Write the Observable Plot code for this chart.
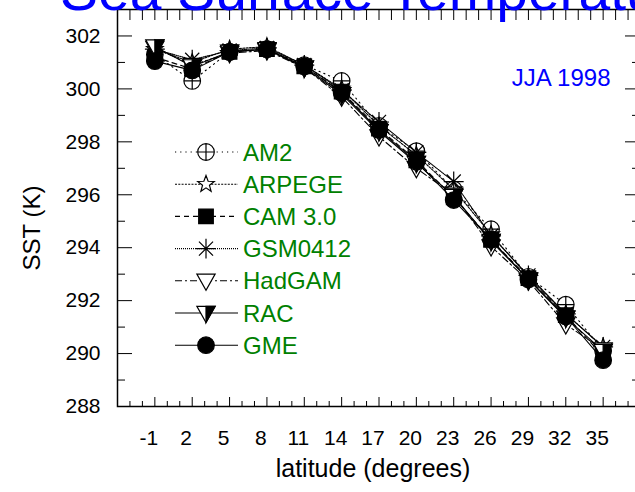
<!DOCTYPE html>
<html><head><meta charset="utf-8">
<script src="https://cdn.jsdelivr.net/npm/d3@7"></script>
<script src="https://cdn.jsdelivr.net/npm/@observablehq/plot@0.6"></script>
<style>
html,body{margin:0;padding:0;background:#fff;overflow:hidden;}
#wrap{position:relative;width:635px;height:492px;overflow:hidden;font-family:"Liberation Sans",Arial,sans-serif;}
#title{position:absolute;left:60px;top:-38px;font-size:57px;color:#0000ff;white-space:nowrap;line-height:1;font-family:"Liberation Sans",Arial,sans-serif;}
#legend{position:absolute;left:0;top:0;pointer-events:none;}
</style></head><body><div id="wrap"><div id="chart"></div><div id="title">Sea Surface Temperature</div></div>
<script>
const latitudes = [-1, 2, 5, 8, 11, 14, 17, 20, 23, 26, 29, 32, 35];
const am2    = [301.3, 300.3, 301.4, 301.5, 300.9, 300.3, 298.6, 297.65, 296.2, 294.7, 292.9, 291.85, 290.1];
const arpege = [301.5, 301.0, 301.5, 301.6, 300.9, 300.0, 298.6, 297.5, 296.2, 294.5, 292.9, 291.5, 290.25];
const cam30  = [301.2, 300.75, 301.4, 301.5, 300.85, 299.9, 298.5, 297.3, 295.9, 294.3, 292.85, 291.45, 289.9];
const gsm0412= [301.5, 301.1, 301.45, 301.55, 300.9, 299.95, 298.75, 297.6, 296.5, 294.45, 292.95, 291.5, 290.25];
const hadgam = [301.55, 300.9, 301.35, 301.45, 300.8, 299.7, 298.2, 297.0, 296.0, 294.05, 292.75, 291.1, 290.15];
const rac    = [301.6, 300.85, 301.4, 301.5, 300.8, 299.8, 298.4, 297.2, 295.95, 294.25, 292.8, 291.35, 290.1];
const gme    = [301.05, 300.7, 301.4, 301.5, 300.85, 299.85, 298.45, 297.25, 295.8, 294.3, 292.8, 291.4, 289.75];
const seriesNames = ["AM2", "ARPEGE", "CAM 3.0", "GSM0412", "HadGAM", "RAC", "GME"];
const seriesValues = [am2, arpege, cam30, gsm0412, hadgam, rac, gme];
const yTicks = [288, 290, 292, 294, 296, 298, 300, 302];
const yMinorTicks = [289, 291, 293, 295, 297, 299, 301];
const xTickLabels = latitudes.map(String);
const subtitleText = "JJA 1998";
const xLabelText = "latitude (degrees)";
const yLabelText = "SST (K)";

// custom symbols
const sym = {
  circlePlus: {draw(c, s) { const r = Math.sqrt(s / Math.PI); c.moveTo(r, 0); c.arc(0, 0, r, 0, 2 * Math.PI); c.moveTo(-r, 0); c.lineTo(r, 0); c.moveTo(0, -r); c.lineTo(0, r); }},
  star: {draw(c, s) { const R = Math.sqrt(s / Math.PI) * 1.05, ri = R * 0.42; for (let k = 0; k < 10; k++) { const a = -Math.PI / 2 + k * Math.PI / 5, rr = k % 2 ? ri : R; const x = rr * Math.cos(a), y = rr * Math.sin(a); k ? c.lineTo(x, y) : c.moveTo(x, y); } c.closePath(); }},
  square: {draw(c, s) { const h = Math.sqrt(s / Math.PI) * 0.88; c.rect(-h, -h, 2 * h, 2 * h); }},
  asterisk: {draw(c, s) { const R = Math.sqrt(s / Math.PI) * 1.2; for (let k = 0; k < 4; k++) { const a = k * Math.PI / 4; c.moveTo(-R * Math.cos(a), -R * Math.sin(a)); c.lineTo(R * Math.cos(a), R * Math.sin(a)); } }},
  triDown: {draw(c, s) { const R = Math.sqrt(s / Math.PI); c.moveTo(-1.1 * R, -0.8 * R); c.lineTo(1.1 * R, -0.8 * R); c.lineTo(0, 1.15 * R); c.closePath(); }},
  triDownHalf: {draw(c, s) { const R = Math.sqrt(s / Math.PI); c.moveTo(0, -0.8 * R); c.lineTo(1.1 * R, -0.8 * R); c.lineTo(0, 1.15 * R); c.closePath(); }},
  circle: {draw(c, s) { const r = Math.sqrt(s / Math.PI); c.moveTo(r, 0); c.arc(0, 0, r, 0, 2 * Math.PI); }}
};
const styles = [
  {dash: "1.2,4", marks: [{symbol: sym.circlePlus, fill: "white"}]},
  {dash: "2,1.3", marks: [{symbol: sym.star, fill: "white"}]},
  {dash: "5,4", marks: [{symbol: sym.square, fill: "black"}]},
  {dash: "1,1", marks: [{symbol: sym.asterisk, fill: "none"}]},
  {dash: "7,3,2,3", marks: [{symbol: sym.triDown, fill: "white"}]},
  {dash: null, marks: [{symbol: sym.triDown, fill: "white"}, {symbol: sym.triDownHalf, fill: "black"}]},
  {dash: null, marks: [{symbol: sym.circle, fill: "black"}]}
];

const W = 635, H = 492, mL = 117, mT = 9, mB = 86, mR = -5;
const fw = W - mR - mL, fh = H - mT - mB;
const xAll = d3.range(-3, 38);
const xMinor = xAll.filter(d => !latitudes.includes(d));

const marks = [];
seriesNames.forEach((name, i) => {
  const rows = latitudes.map((lat, j) => ({model: name, lat, sst: seriesValues[i][j]}));
  const st = styles[i];
  marks.push(Plot.line(rows, {x: "lat", y: "sst", stroke: "black", strokeWidth: 1.1, strokeDasharray: st.dash || undefined}));
  st.marks.forEach(m => marks.push(Plot.dot(rows, {x: "lat", y: "sst", r: 8.3, symbol: m.symbol, fill: m.fill, stroke: "black", strokeWidth: 1.2})));
});

const plot = Plot.plot({
  width: W, height: H,
  marginLeft: mL, marginTop: mT, marginBottom: mB, marginRight: mR,
  style: {fontFamily: "Liberation Sans, Arial, sans-serif", fontSize: "21px", color: "black", background: "white"},
  x: {domain: [-4, 38]},
  y: {domain: [288, 303]},
  marks: [
    Plot.ruleX(latitudes, {x: d => d, insetTop: fh - 9, stroke: "black"}),
    Plot.ruleX(xMinor, {x: d => d, insetTop: fh - 5, stroke: "black"}),
    Plot.ruleX(xAll, {x: d => d, insetBottom: fh - 11, stroke: "black"}),
    Plot.ruleY(yTicks, {y: d => d, insetRight: fw - 15, stroke: "black"}),
    Plot.ruleY(yMinorTicks, {y: d => d, insetRight: fw - 8, stroke: "black"}),
    Plot.ruleY(yTicks, {y: d => d, insetLeft: fw - 15, stroke: "black"}),
    Plot.ruleY(yMinorTicks, {y: d => d, insetLeft: fw - 8, stroke: "black"}),
    Plot.axisX(latitudes, {tickSize: 0, tickPadding: 24, dx: -6, label: null, tickFormat: (d, i) => xTickLabels[i], fontSize: 21}),
    Plot.axisY(yTicks, {tickSize: 0, tickPadding: 17, label: null, tickFormat: d => String(d), fontSize: 21}),
    Plot.text([yLabelText], {frameAnchor: "left", rotate: -90, dx: -85, dy: 20, fontSize: 24, textAnchor: "middle"}),
    Plot.text([xLabelText], {frameAnchor: "bottom", dx: -6, dy: 70, fontSize: 25, textAnchor: "middle"}),
    Plot.text([subtitleText], {frameAnchor: "top-right", dx: -30, dy: 59, fontSize: 24, fill: "#0000ff", textAnchor: "end"}),
    ...marks,
    Plot.frame({stroke: "black", strokeWidth: 1.5})
  ]
});
document.getElementById("chart").appendChild(plot);

// legend overlay
const lg = d3.select("#wrap").append("svg").attr("id", "legend").attr("width", W).attr("height", H);
seriesNames.forEach((name, i) => {
  const y = 152 + i * 32.2;
  const st = styles[i];
  lg.append("line").attr("x1", 175).attr("x2", 238).attr("y1", y).attr("y2", y)
    .attr("stroke", "black").attr("stroke-width", 1.1).attr("stroke-dasharray", st.dash);
  st.marks.forEach(m => {
    lg.append("path").attr("transform", `translate(206,${y})`)
      .attr("d", d3.symbol(m.symbol, Math.PI * 8.3 * 8.3)())
      .attr("fill", m.fill).attr("stroke", "black").attr("stroke-width", 1.2);
  });
  lg.append("text").attr("x", 243).attr("y", y).attr("dy", "0.36em")
    .attr("fill", "#008000").attr("font-size", 24).attr("font-family", "Liberation Sans, Arial, sans-serif").text(name);
});
</script></body></html>
